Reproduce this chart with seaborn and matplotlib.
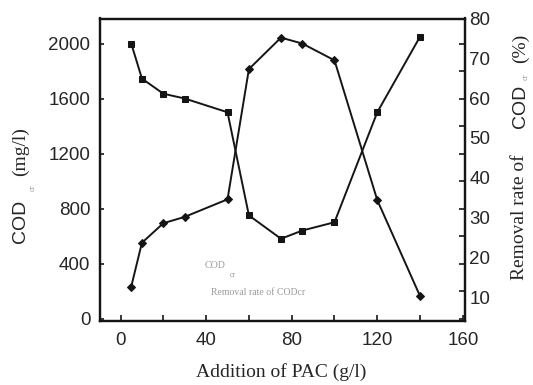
import matplotlib
matplotlib.use("Agg")
import matplotlib.pyplot as plt
import seaborn as sns
import pandas as pd
import numpy as np
from matplotlib.ticker import FixedLocator, MultipleLocator

# PAC dosage (g/l) and measured responses
pac = [5, 10, 20, 30, 50, 60, 75, 85, 100, 120, 140]
cod = [2000, 1745, 1635, 1600, 1500, 750, 580, 640, 700, 1500, 2050]
removal = [12.7, 23.7, 28.6, 30.2, 34.6, 67.3, 75.2, 73.7, 69.5, 34.4, 10.3]

x_ticks = [0, 40, 80, 120, 160]
left_ticks = [0, 400, 800, 1200, 1600, 2000]
right_ticks = [10, 20, 30, 40, 50, 60, 70, 80]

sns.set_style("ticks")
plt.rcParams["font.family"] = ["Liberation Sans", "DejaVu Sans"]

W, H = 533, 385
fig = plt.figure(figsize=(W / 100, H / 100), dpi=100)
ax = fig.add_axes([100 / W, 1 - 320.7 / H, 365 / W, (320.7 - 18.5) / H])

df = pd.DataFrame({"pac": pac, "cod": cod, "removal": removal})
ink = "#151515"

sns.lineplot(data=df, x="pac", y="cod", ax=ax, color=ink, lw=1.4,
             marker="s", markersize=5, markeredgecolor=ink, markerfacecolor=ink)
ax2 = ax.twinx()
sns.lineplot(data=df, x="pac", y="removal", ax=ax2, color=ink, lw=1.4,
             marker="D", markersize=4.5, markeredgecolor=ink, markerfacecolor=ink)

ax.set_xlim(-9.6, 161)
ax.set_ylim(-16, 2182)
ax2.set_ylim(4.13, 80)

ax.set_xticks(x_ticks)
ax.xaxis.set_minor_locator(MultipleLocator(20))
ax.set_yticks(left_ticks)
ax2.set_yticks(right_ticks)

# the right spine carries tick marks mirroring the left scale every 200 mg/l
l0, l1 = ax.get_ylim()
r0, r1 = ax2.get_ylim()
mirror = [r0 + (v - l0) / (l1 - l0) * (r1 - r0) for v in range(0, 2001, 200)]
ax2.yaxis.set_minor_locator(FixedLocator(mirror))

lab = 13.5
ax.tick_params(axis="x", which="both", direction="in", length=4, width=1.3,
               labelsize=lab, pad=8, top=False)
ax.tick_params(axis="y", which="major", direction="in", length=3, width=1.3,
               labelsize=lab, pad=7, right=False)
ax.tick_params(axis="y", which="minor", left=False, right=False)
ax2.tick_params(axis="y", which="major", length=0, labelsize=lab, pad=3)
ax2.tick_params(axis="y", which="minor", direction="in", length=4, width=1.3)

for a in (ax, ax2):
    for s in a.spines.values():
        s.set_linewidth(1.6)
        s.set_color(ink)
ax.set_xlabel("")
ax.set_ylabel("")
ax2.set_ylabel("")

def px(x, y):
    return x / W, 1 - y / H

serif = ["Liberation Serif", "DejaVu Serif"]
sans = ["Liberation Sans", "DejaVu Sans"]
grey = "#9a9a9a"

# x axis title
fig.text(*px(281, 372), "Addition of PAC (g/l)", family=serif, fontsize=14,
         ha="center", va="center")

# left axis title: COD_cr (mg/l)
fig.text(*px(20, 221.5), "COD", family=sans, fontsize=14, rotation=90,
         ha="center", va="center")
fig.text(*px(33, 188), "cr", family=serif, fontsize=6, color=grey, rotation=90,
         ha="center", va="center")
fig.text(*px(20, 151.5), "(mg/l)", family=serif, fontsize=14, rotation=90,
         ha="center", va="center")

# right axis title: Removal rate of COD_cr (%)
fig.text(*px(520, 217), "Removal rate of", family=serif, fontsize=14, rotation=90,
         ha="center", va="center")
fig.text(*px(520, 106), "COD", family=sans, fontsize=14, rotation=90,
         ha="center", va="center")
fig.text(*px(526, 77), "cr", family=serif, fontsize=6, color=grey, rotation=90,
         ha="center", va="center")
fig.text(*px(520, 48), "(%)", family=serif, fontsize=14, rotation=90,
         ha="center", va="center")

# faint series captions inside the plot
fig.text(*px(205, 266), "COD", family=serif, fontsize=7.2, color=grey,
         ha="left", va="center")
fig.text(*px(230, 275), "cr", family=serif, fontsize=5.5, color=grey,
         ha="left", va="center")
fig.text(*px(210.7, 292.7), "Removal rate of CODcr", family=serif, fontsize=7,
         color=grey, ha="left", va="center")

fig.savefig("out.png", dpi=100)
